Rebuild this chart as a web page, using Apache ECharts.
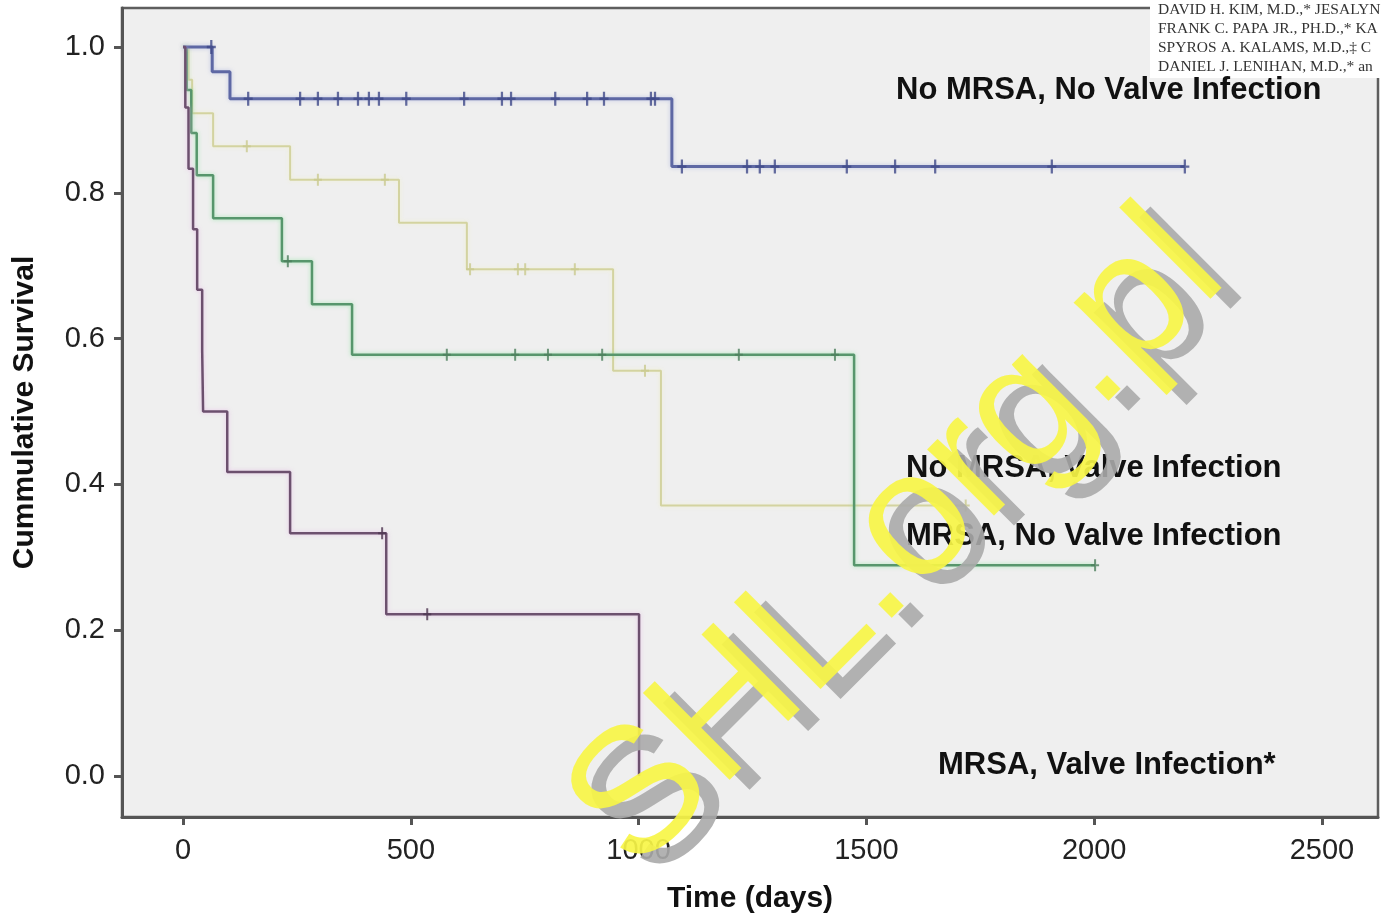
<!DOCTYPE html>
<html><head><meta charset="utf-8">
<script src="https://cdn.jsdelivr.net/npm/echarts@6/dist/echarts.min.js"></script>
<style>html,body{margin:0;padding:0;background:#fff}#c{width:1383px;height:922px}</style>
</head><body><div id="c"></div>
<script>
// ---- data ----
const xTicks = [0, 500, 1000, 1500, 2000, 2500];
const yTicks = [0, 0.2, 0.4, 0.6, 0.8, 1.0];
const groupNames = ['No MRSA, No Valve Infection', 'No MRSA, Valve Infection', 'MRSA, No Valve Infection', 'MRSA, Valve Infection*'];

// No MRSA, No Valve Infection (blue)
const blueTimes = [0, 64, 103, 1073, 2199];
const blueSurv  = [1, 0.966, 0.929, 0.836, 0.836];
const blueCensor = [62, 143, 257, 296, 340, 384, 408, 430, 490, 617, 700, 720, 817, 887, 924, 1027, 1036, 1095, 1238, 1266, 1299, 1457, 1563, 1651, 1907, 2199];

// No MRSA, Valve Infection (yellow)
const yellowTimes = [0, 12, 20, 66, 235, 474, 623, 944, 1049, 1718];
const yellowSurv  = [1, 0.955, 0.909, 0.864, 0.818, 0.759, 0.695, 0.556, 0.371, 0.371];
const yellowCensor = [140, 296, 443, 630, 735, 751, 860, 1014, 1718];

// MRSA, No Valve Infection (green)
const greenTimes = [0, 8, 18, 30, 66, 217, 283, 371, 1473, 2002];
const greenSurv  = [1, 0.941, 0.882, 0.824, 0.765, 0.706, 0.647, 0.578, 0.289, 0.289];
const greenCensor = [230, 579, 729, 801, 920, 1220, 1431, 2002];

// MRSA, Valve Infection (purple)
const purpleTimes = [0, 5, 12, 22, 31, 42, 44, 97, 235, 446, 1001];
const purpleSurv  = [1, 0.917, 0.833, 0.75, 0.667, 0.583, 0.5, 0.417, 0.333, 0.222, 0];
const purpleCensor = [437, 536];

const authorLines = [
  'DAVID H. KIM, M.D.,* JESALYN',
  'FRANK C. PAPA JR., PH.D.,* KA',
  'SPYROS A. KALAMS, M.D.,\u2021 C',
  'DANIEL J. LENIHAN, M.D.,* an'
];

// ---- helpers ----
function pairs(t, s) { return t.map((v, i) => [v, s[i]]); }
function survAt(t, times, surv) {
  let v = surv[0];
  for (let i = 0; i < times.length; i++) if (times[i] <= t) v = surv[i];
  return v;
}
function censorPts(c, times, surv) { return c.map(t => [t, survAt(t, times, surv)]); }

const FONT = '"Liberation Sans", Arial, sans-serif';
const plus = 'path://M3,0H5V5H8V7H5V12H3V7H0V5H3Z';

function kmLine(name, times, surv, color, width, glow) {
  return {
    name, type: 'line', step: 'end', data: pairs(times, surv), showSymbol: false,
    lineStyle: { color, width, shadowColor: glow, shadowBlur: 4 }, z: 3, silent: true
  };
}
function censorSeries(name, pts, color, size) {
  return {
    name: name + ' censored', type: 'scatter', data: pts, symbol: plus, symbolSize: size,
    itemStyle: { color }, z: 4, silent: true
  };
}

const chart = echarts.init(document.getElementById('c'), null, { renderer: 'canvas' });
chart.setOption({
  animation: false,
  backgroundColor: '#ffffff',
  grid: { left: 122, right: 5, top: 8, bottom: 105, show: true, backgroundColor: '#efefef', borderColor: '#5e5e5e', borderWidth: 2.5 },
  xAxis: {
    type: 'value', min: -134, max: 2623,
    name: 'Time (days)', nameLocation: 'middle', nameGap: 67,
    nameTextStyle: { fontFamily: FONT, fontWeight: 'bold', fontSize: 30, color: '#111' },
    axisLine: { show: true, onZero: false, lineStyle: { color: '#555', width: 3 } },
    axisTick: { show: true, customValues: xTicks, length: 8, lineStyle: { color: '#555', width: 3 } },
    axisLabel: { customValues: xTicks, margin: 19, fontFamily: FONT, fontSize: 29, color: '#222', formatter: v => String(Math.round(v)) },
    splitLine: { show: false }
  },
  yAxis: {
    type: 'value', min: -0.0562, max: 1.0535,
    name: 'Cummulative Survival', nameLocation: 'middle', nameGap: 82, nameRotate: 90,
    nameTextStyle: { fontFamily: FONT, fontWeight: 'bold', fontSize: 30, color: '#111' },
    axisLine: { show: true, onZero: false, lineStyle: { color: '#555', width: 3 } },
    axisTick: { show: true, customValues: yTicks, length: 8, lineStyle: { color: '#555', width: 3 } },
    axisLabel: { customValues: yTicks, margin: 17, fontFamily: FONT, fontSize: 29, color: '#222', formatter: v => v.toFixed(1) },
    splitLine: { show: false }
  },
  series: [
    kmLine(groupNames[1], yellowTimes, yellowSurv, '#d3d3a0', 2, 'rgba(240,240,200,0.8)'),
    kmLine(groupNames[2], greenTimes, greenSurv, '#57966c', 2.5, 'rgba(140,230,160,0.7)'),
    kmLine(groupNames[0], blueTimes, blueSurv, '#5e68a4', 3, 'rgba(160,170,220,0.6)'),
    kmLine(groupNames[3], purpleTimes, purpleSurv, '#6c506e', 2.5, 'rgba(230,180,230,0.7)'),
    censorSeries(groupNames[1], censorPts(yellowCensor, yellowTimes, yellowSurv), '#c9c98e', [8, 12]),
    censorSeries(groupNames[2], censorPts(greenCensor, greenTimes, greenSurv), '#4c7e5c', [8, 12]),
    censorSeries(groupNames[0], censorPts(blueCensor, blueTimes, blueSurv), '#3e4888', [9, 14]),
    censorSeries(groupNames[3], censorPts(purpleCensor, purpleTimes, purpleSurv), '#4e3650', [8, 12])
  ],
  graphic: [
    { type: 'rect', shape: { x: 1150, y: 0, width: 233, height: 78 }, style: { fill: '#ffffff' }, z: 50 },
    ...authorLines.map((t, i) => ({
      type: 'text', x: 1158, y: 10 + i * 19, z: 51,
      style: { text: t, fill: '#333', fontFamily: '"Liberation Serif", "DejaVu Serif", serif', fontSize: 15.5, textAlign: 'left', textVerticalAlign: 'middle' }
    })),
    { type: 'text', x: 896, y: 90, z: 60, style: { text: groupNames[0], fill: '#111', fontFamily: FONT, fontWeight: 'bold', fontSize: 31, textAlign: 'left', textVerticalAlign: 'middle' } },
    { type: 'text', x: 906, y: 468, z: 60, style: { text: groupNames[1], fill: '#111', fontFamily: FONT, fontWeight: 'bold', fontSize: 31, textAlign: 'left', textVerticalAlign: 'middle' } },
    { type: 'text', x: 906, y: 536, z: 60, style: { text: groupNames[2], fill: '#111', fontFamily: FONT, fontWeight: 'bold', fontSize: 31, textAlign: 'left', textVerticalAlign: 'middle' } },
    { type: 'text', x: 938, y: 765, z: 60, style: { text: groupNames[3], fill: '#111', fontFamily: FONT, fontWeight: 'bold', fontSize: 31, textAlign: 'left', textVerticalAlign: 'middle' } },
    { type: 'text', x: 918, y: 552, rotation: Math.PI / 4, z: 70,
      style: { text: 'SHL.org.pl', fill: 'rgba(170,170,170,0.9)', fontFamily: FONT, fontSize: 178, textAlign: 'center', textVerticalAlign: 'middle' } },
    { type: 'text', x: 898, y: 542, rotation: Math.PI / 4, z: 71,
      style: { text: 'SHL.org.pl', fill: 'rgba(247,245,70,0.92)', fontFamily: FONT, fontSize: 178, textAlign: 'center', textVerticalAlign: 'middle' } }
  ]
});
</script>
</body></html>
